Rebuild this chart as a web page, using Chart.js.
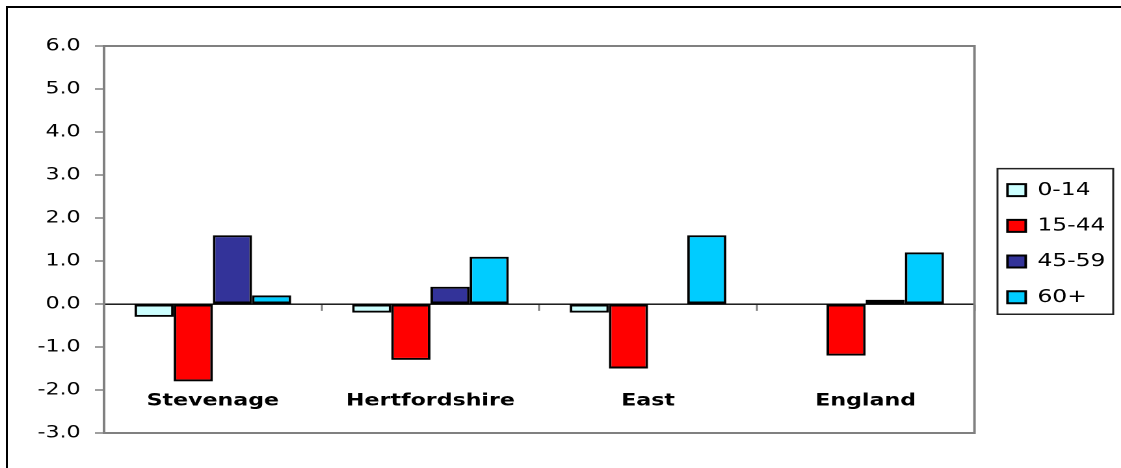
<!DOCTYPE html>
<html>
<head>
<meta charset="utf-8">
<title>Population change by age group</title>
<script src="https://cdn.jsdelivr.net/npm/chart.js@4/dist/chart.umd.min.js"></script>
<style>
  html, body { margin: 0; padding: 0; background: #fff; overflow: hidden; width: 1121px; height: 468px; }
  #frame { position: absolute; left: 6px; top: 6px; width: 1200px; height: 600px;
           border-left: 2px solid #000; border-top: 2px solid #000; }
  /* the chart is laid out narrow and widened, giving the broad lettering */
  #wrap { position: absolute; left: 0; top: 0; width: 862px; height: 468px;
          transform: scaleX(1.3005); transform-origin: 0 0; }
</style>
</head>
<body>
<div id="frame"></div>
<div id="wrap"><canvas id="chart" width="862" height="468"></canvas></div>
<script>
// Areas compared
const areas = ['Stevenage', 'Hertfordshire', 'East', 'England'];

// Change by age group (percentage points)
const age0to14  = [-0.3, -0.2, -0.2, 0.0];
const age15to44 = [-1.8, -1.3, -1.5, -1.2];
const age45to59 = [1.6, 0.4, 0.0, 0.1];
const age60plus = [0.2, 1.1, 1.6, 1.2];

const seriesNames = ['0-14', '15-44', '45-59', '60+'];
const seriesColors = ['#CCFFFF', '#FF0000', '#333399', '#00CCFF'];

// Value axis ticks
const yTickValues = [-3, -2, -1, 0, 1, 2, 3, 4, 5, 6];

const FONT = 'DejaVu Sans';
Chart.defaults.font.family = FONT;
Chart.defaults.color = '#000';

const seriesValues = [age0to14, age15to44, age45to59, age60plus];
const datasets = seriesNames.map((name, i) => ({
  label: name,
  data: seriesValues[i],
  backgroundColor: seriesColors[i],
  borderColor: '#000',
  borderWidth: 2,
  borderSkipped: false,
  categoryPercentage: 0.72,
  barPercentage: 1.0
}));

// Grey frame around the plotting area
const plotFrame = {
  id: 'plotFrame',
  beforeDatasetsDraw(chart) {
    const { ctx, chartArea: a } = chart;
    ctx.save();
    ctx.strokeStyle = '#808080';
    ctx.lineWidth = 2;
    ctx.strokeRect(a.left, a.top, a.right - a.left, a.bottom - a.top);
    ctx.restore();
  }
};

// Box drawn round the legend entries
const legendFrame = {
  id: 'legendFrame',
  afterDraw(chart) {
    const boxes = chart.legend && chart.legend.legendHitBoxes;
    if (!boxes || !boxes.length) return;
    let l = Infinity, t = Infinity, r = -Infinity, b = -Infinity;
    boxes.forEach(h => {
      l = Math.min(l, h.left); t = Math.min(t, h.top);
      r = Math.max(r, h.left + h.width); b = Math.max(b, h.top + h.height);
    });
    const { ctx } = chart;
    ctx.save();
    ctx.strokeStyle = '#222';
    ctx.lineWidth = 1.5;
    const x0 = l - 7.7, y0 = t - 12.5, x1 = r + 6, y1 = b + 8;
    ctx.strokeRect(x0, y0, x1 - x0, y1 - y0);
    ctx.restore();
  }
};

new Chart(document.getElementById('chart'), {
  type: 'bar',
  data: { labels: areas, datasets },
  plugins: [plotFrame, legendFrame],
  options: {
    responsive: false,
    devicePixelRatio: 2,
    animation: false,
    layout: { padding: { left: 29, top: 46, bottom: 35, right: 2 } },
    plugins: {
      tooltip: { enabled: false },
      legend: {
        position: 'right',
        title: { display: true, text: '', font: { size: 7 } },
        labels: {
          boxWidth: 14,
          boxHeight: 12,
          padding: 17.7,
          color: '#000',
          font: { family: FONT, size: 18 }
        }
      }
    },
    scales: {
      x: {
        position: { y: 0 },
        grid: {
          drawOnChartArea: false,
          drawTicks: true,
          tickLength: 6,
          tickColor: '#808080',
          tickWidth: 1.5,
          offset: true
        },
        border: { display: true, color: '#000', width: 1.4 },
        ticks: {
          padding: 81,
          color: '#000',
          font: { family: FONT, size: 17, weight: 'bold' }
        }
      },
      y: {
        min: yTickValues[0],
        max: yTickValues[yTickValues.length - 1],
        afterBuildTicks(scale) {
          scale.ticks = yTickValues.map(v => ({ value: v }));
        },
        afterFit(scale) { scale.width = 51; },
        grid: {
          drawOnChartArea: false,
          drawTicks: true,
          tickLength: 7,
          tickColor: '#808080',
          tickWidth: 1.5
        },
        border: { display: true, color: '#808080', width: 2 },
        ticks: {
          padding: 11,
          color: '#000',
          font: { family: FONT, size: 17 },
          callback: v => Number(v).toFixed(1)
        }
      },
      // empty strip between the plot frame and the legend
      gutter: {
        type: 'linear',
        position: 'right',
        display: true,
        grid: { display: false },
        border: { display: false },
        ticks: { display: false },
        afterFit(scale) { scale.width = 7.7; }
      }
    }
  }
});
</script>
</body>
</html>
